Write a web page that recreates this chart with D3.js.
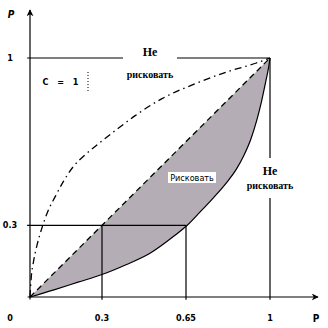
<!DOCTYPE html>
<html>
<head>
<meta charset="utf-8">
<script src="https://cdn.jsdelivr.net/npm/d3@7"></script>
<style>
  body { margin: 0; background: #fff; }
  svg { display: block; }
</style>
</head>
<body>
<script>
// values
const xTickValues = [0, 0.3, 0.65, 1];
const xTickLabels = ['0', '0.3', '0.65', '1'];
const yTickValues = [0.3, 1];
const yTickLabels = ['0.3', '1'];

const upperCurve = [
    [0, 0], [0.005, 0.08], [0.015, 0.15], [0.03, 0.22], [0.05, 0.29],
    [0.075, 0.36], [0.105, 0.42], [0.14, 0.485], [0.18, 0.545],
    [0.23, 0.595], [0.29, 0.645], [0.36, 0.7], [0.44, 0.76],
    [0.55, 0.83], [0.69, 0.893], [0.83, 0.945], [0.94, 0.978], [1, 1]
];
const lowerCurve = [
    [0, 0], [0.1, 0.03], [0.2, 0.062], [0.3, 0.094], [0.4, 0.135],
    [0.5, 0.183], [0.6, 0.255], [0.655, 0.3], [0.708, 0.355],
    [0.764, 0.415], [0.82, 0.48], [0.86, 0.535], [0.89, 0.59],
    [0.92, 0.66], [0.945, 0.74], [0.965, 0.82], [0.982, 0.9],
    [0.994, 0.96], [1, 1]
];
const diagonal = [[0, 0], [1, 1]];

const width = 328, height = 328;
const svg = d3.select('body').append('svg')
    .attr('width', width)
    .attr('height', height);

const x = d3.scaleLinear().domain([0, 1]).range([30, 270]);
const y = d3.scaleLinear().domain([0, 1]).range([297, 58]);

// shaded "take risk" region between diagonal and lower curve
const area = d3.area()
    .x(d => x(d[0]))
    .y0(d => y(d[1]))
    .y1(d => y(d[0]))
    .curve(d3.curveMonotoneX);

svg.append('path')
    .datum(lowerCurve)
    .attr('d', area)
    .style('fill', '#b5adb5');

const line = d3.line()
    .x(d => x(d[0]))
    .y(d => y(d[1]))
    .curve(d3.curveMonotoneX);

svg.append('path')
    .datum(lowerCurve)
    .attr('d', line)
    .style('fill', 'none')
    .style('stroke', '#000')
    .style('stroke-width', 1.2);

svg.append('path')
    .datum(diagonal)
    .attr('d', line)
    .style('fill', 'none')
    .style('stroke', '#000')
    .style('stroke-width', 1.3)
    .style('stroke-dasharray', '6,4');

svg.append('path')
    .datum(upperCurve)
    .attr('d', line)
    .style('fill', 'none')
    .style('stroke', '#000')
    .style('stroke-width', 1.3)
    .style('stroke-dasharray', '7,4,1.5,4');

// guide lines
const guides = [
    [[-0.012, 1], [1, 1]],
    [[1, 1], [1, -0.012]],
    [[-0.012, 0.3], [0.65, 0.3]],
    [[0.3, 0.3], [0.3, -0.012]],
    [[0.65, 0.3], [0.65, -0.012]]
];
svg.selectAll('line.guide')
    .data(guides)
    .enter()
    .append('line')
    .classed('guide', true)
    .attr('x1', d => x(d[0][0]))
    .attr('y1', d => y(d[0][1]))
    .attr('x2', d => x(d[1][0]))
    .attr('y2', d => y(d[1][1]))
    .style('stroke', '#000')
    .style('stroke-width', 1.2);

// axes with arrows
svg.append('defs').append('marker')
    .attr('id', 'arrow')
    .attr('viewBox', '0 0 10 10')
    .attr('refX', 9).attr('refY', 5)
    .attr('markerWidth', 7).attr('markerHeight', 7)
    .attr('markerUnits', 'userSpaceOnUse')
    .attr('orient', 'auto')
    .append('path')
    .attr('d', 'M0,0 L10,5 L0,10 L3,5 Z')
    .style('fill', '#000');

svg.append('line')
    .attr('x1', x(-0.01)).attr('y1', y(0))
    .attr('x2', 318).attr('y2', y(0))
    .style('stroke', '#000').style('stroke-width', 1.2)
    .attr('marker-end', 'url(#arrow)');

svg.append('line')
    .attr('x1', x(0)).attr('y1', y(-0.01))
    .attr('x2', x(0)).attr('y2', 10)
    .style('stroke', '#000').style('stroke-width', 1.2)
    .attr('marker-end', 'url(#arrow)');

const tickFont = '"DejaVu Sans Condensed", "DejaVu Sans", sans-serif';

svg.append('g')
    .attr('transform', 'translate(0,318)')
    .style('font-family', tickFont)
    .style('font-weight', 'bold')
    .style('font-size', '9px')
    .selectAll('text')
    .data(xTickValues)
    .enter()
    .append('text')
    .attr('x', (d, i) => i === 0 ? 10 : x(d))
    .attr('dy', '0.35em')
    .attr('text-anchor', 'middle')
    .text((d, i) => xTickLabels[i]);

svg.append('g')
    .style('font-family', tickFont)
    .style('font-weight', 'bold')
    .style('font-size', '9px')
    .selectAll('text')
    .data(yTickValues)
    .enter()
    .append('text')
    .attr('x', 10)
    .attr('y', d => y(d))
    .attr('dy', '0.35em')
    .attr('text-anchor', 'middle')
    .text((d, i) => yTickLabels[i]);

// axis names
svg.append('text')
    .attr('x', 11).attr('y', 18)
    .style('font-family', tickFont).style('font-weight', 'bold')
    .style('font-size', '10px').style('font-style', 'italic')
    .attr('text-anchor', 'middle')
    .text('P');

svg.append('text')
    .attr('x', 316).attr('y', 318)
    .attr('dy', '0.35em')
    .style('font-family', tickFont).style('font-weight', 'bold')
    .style('font-size', '10px')
    .attr('text-anchor', 'middle')
    .text('P');

// "Не рисковать" labels
const serif = '"Liberation Serif", "DejaVu Serif", serif';
const noRisk = [
    { cx: 150, top: 45, bottom: 81, l1: 56, l2: 78 },
    { cx: 270, top: 158, bottom: 198, l1: 175, l2: 189 }
];
noRisk.forEach(p => {
    const g = svg.append('g').attr('transform', `translate(${p.cx},0)`);
    g.append('rect')
        .attr('x', -27).attr('y', p.top)
        .attr('width', 54).attr('height', p.bottom - p.top)
        .style('fill', '#fff');
    g.append('text')
        .attr('y', p.l1)
        .attr('text-anchor', 'middle')
        .style('font-family', serif).style('font-weight', 'bold')
        .style('font-size', '12px')
        .text('Не');
    g.append('text')
        .attr('y', p.l2)
        .attr('text-anchor', 'middle')
        .style('font-family', serif).style('font-weight', 'bold')
        .style('font-size', '10px')
        .text('рисковать');
});

// "Рисковать" inside shaded area
const riskG = svg.append('g').attr('transform', 'translate(192,178)');
riskG.append('rect')
    .attr('x', -24).attr('y', -6)
    .attr('width', 48).attr('height', 11)
    .style('fill', '#fff');
riskG.append('text')
    .attr('dy', '0.35em')
    .attr('text-anchor', 'middle')
    .style('font-family', tickFont)
    .style('font-size', '9px')
    .text('Рисковать');

// "C = 1" note with dotted marker
svg.append('text')
    .attr('x', 62).attr('y', 82)
    .attr('dy', '0.35em')
    .attr('text-anchor', 'middle')
    .style('font-family', tickFont).style('font-weight', 'bold')
    .style('font-size', '9px')
    .style('letter-spacing', '3px')
    .text('C = 1');

svg.append('line')
    .attr('x1', 88).attr('y1', 72)
    .attr('x2', 88).attr('y2', 92)
    .style('stroke', '#000')
    .style('stroke-dasharray', '1,2');
</script>
</body>
</html>
